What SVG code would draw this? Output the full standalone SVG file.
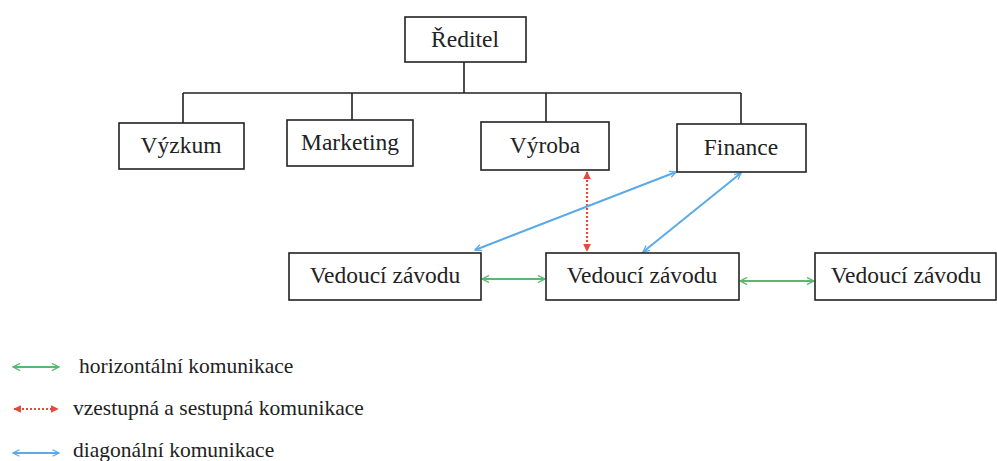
<svg xmlns="http://www.w3.org/2000/svg" width="997" height="461" viewBox="0 0 997 461">
<style>
.box{fill:#fff;stroke:#222;stroke-width:1.6}
.lbl{font-size:23.5px;fill:#222;text-anchor:middle}
.leg{font-size:21.5px;fill:#222}
.tree{stroke:#222;stroke-width:1.6;fill:none}
.g{stroke:#5cb870;stroke-width:2.2;fill:none}
.b{stroke:#5aaae8;stroke-width:2;fill:none}
.r{stroke:#e24a3c;stroke-width:2.2;stroke-dasharray:2 2;fill:none}
</style>
<defs>
<marker id="ag" viewBox="0 0 10 10" refX="9" refY="5" markerWidth="4" markerHeight="4" orient="auto-start-reverse" markerUnits="strokeWidth"><path d="M1,1 L9,5 L1,9" fill="none" stroke="#5cb870" stroke-width="1.6"/></marker>
<marker id="ab" viewBox="0 0 10 10" refX="9" refY="5" markerWidth="4" markerHeight="4" orient="auto-start-reverse" markerUnits="strokeWidth"><path d="M1,1 L9,5 L1,9" fill="none" stroke="#5aaae8" stroke-width="1.6"/></marker>
<marker id="ar" viewBox="0 0 10 10" refX="9" refY="5" markerWidth="3.5" markerHeight="3.5" orient="auto-start-reverse" markerUnits="strokeWidth"><path d="M0,0 L10,5 L0,10 z" fill="#e24a3c"/></marker>
</defs>
<g id="connectors">
<path class="tree" d="M464,62 V93 M183,93 H741 M183,93 V123 M352,93 V120 M546,93 V122 M741,93 V124"/>
<line class="r" x1="587" y1="172" x2="587" y2="251" marker-start="url(#ar)" marker-end="url(#ar)"/>
<line class="b" x1="475" y1="250" x2="676" y2="172" marker-start="url(#ab)" marker-end="url(#ab)"/>
<line class="b" x1="643" y1="252" x2="741" y2="173" marker-start="url(#ab)" marker-end="url(#ab)"/>
<line class="g" x1="482" y1="279" x2="545" y2="279" marker-start="url(#ag)" marker-end="url(#ag)"/>
<line class="g" x1="740" y1="281" x2="814" y2="281" marker-start="url(#ag)" marker-end="url(#ag)"/>
</g>
<g font-family="Liberation Serif, DejaVu Serif, serif">
<g id="reditel"><rect class="box" x="405" y="17" width="121" height="45"/><text class="lbl" x="465" y="47">Ředitel</text></g>
<g id="vyzkum"><rect class="box" x="119" y="123" width="125" height="46"/><text class="lbl" x="181" y="153">Výzkum</text></g>
<g id="marketing"><rect class="box" x="287" y="120" width="126" height="46"/><text class="lbl" x="350" y="150">Marketing</text></g>
<g id="vyroba"><rect class="box" x="481" y="122" width="128" height="48"/><text class="lbl" x="545" y="153">Výroba</text></g>
<g id="finance"><rect class="box" x="677" y="124" width="129" height="48"/><text class="lbl" x="741" y="155">Finance</text></g>
<g id="vedouci1"><rect class="box" x="289" y="253" width="192" height="47"/><text class="lbl" x="385" y="283">Vedoucí závodu</text></g>
<g id="vedouci2"><rect class="box" x="546" y="253" width="193" height="47"/><text class="lbl" x="642" y="283">Vedoucí závodu</text></g>
<g id="vedouci3"><rect class="box" x="815" y="253" width="181" height="47"/><text class="lbl" x="906" y="283">Vedoucí závodu</text></g>
<g id="legend">
<line class="g" x1="13" y1="367" x2="59" y2="367" marker-start="url(#ag)" marker-end="url(#ag)"/>
<text class="leg" x="79" y="373">horizontální komunikace</text>
<line class="r" x1="14" y1="409" x2="58" y2="409" marker-start="url(#ar)" marker-end="url(#ar)"/>
<text class="leg" x="73" y="415">vzestupná a sestupná komunikace</text>
<line class="b" x1="13" y1="453" x2="59" y2="453" marker-start="url(#ab)" marker-end="url(#ab)"/>
<text class="leg" x="73" y="457">diagonální komunikace</text>
</g>
</g>
</svg>
